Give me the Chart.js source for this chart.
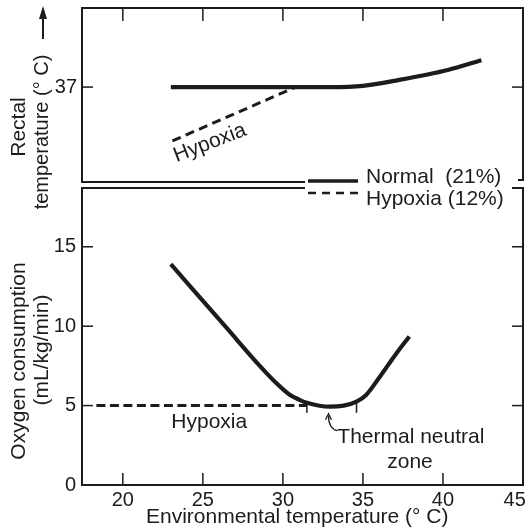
<!DOCTYPE html>
<html>
<head>
<meta charset="utf-8">
<script src="https://cdn.jsdelivr.net/npm/chart.js@4"></script>
<style>
html,body{margin:0;padding:0;background:#fff;}
#wrap{position:relative;width:530px;height:530px;}
canvas{position:absolute;left:0;top:0;}
</style>
</head>
<body>
<div id="wrap">
<canvas id="topChart" width="530" height="530"></canvas>
<canvas id="botChart" width="530" height="530"></canvas>
</div>
<script>
// ---------- data ----------
const xTickValues = [20, 25, 30, 35, 40, 45];
const xRange = [17.45, 45];

const rectalTicks = [37];
const rectalRange = [34, 39.5];
const o2Ticks = [0, 5, 10, 15];
const o2Range = [0, 18.7];

const seriesLabels = ['Normal  (21%)', 'Hypoxia (12%)'];

const rectalNormalT = [23, 27, 31, 33, 35, 37.2, 40.3, 42.4];
const rectalNormalV = [37, 37, 37, 37.0, 37.04, 37.22, 37.54, 37.85];
const rectalHypoxiaT = [23.1, 30.8];
const rectalHypoxiaV = [35.3, 37.0];

const o2NormalT = [23, 26.5, 28.6, 29.6, 30.4, 31.0, 31.5, 32.9, 33.8, 34.6, 35.2, 36.06, 37.1, 37.9];
const o2NormalV = [13.9, 9.87, 7.45, 6.4, 5.7, 5.38, 5.18, 4.93, 5.0, 5.25, 5.67, 6.82, 8.3, 9.35];
const o2HypoxiaT = [18.35, 31.5];
const o2HypoxiaV = [5, 5];
const tnzBounds = [31.5, 34.6];
const tnzTickV = [5.15, 4.55];

// ---------- style ----------
const INK = '#1c1c1c';
const FONT = "'Liberation Sans', Arial, Helvetica, sans-serif";
const TL = 11;
const TICK_FONT = 20;
const TITLE_FONT = 21;

const pts = (xs, ys) => xs.map((x, i) => ({x: x, y: ys[i]}));
function seg(ctx, x1, y1, x2, y2) { ctx.beginPath(); ctx.moveTo(x1, y1); ctx.lineTo(x2, y2); ctx.stroke(); }
function vText(ctx, text, x, y) {
  ctx.save(); ctx.translate(x, y); ctx.rotate(-Math.PI / 2);
  ctx.textAlign = 'center'; ctx.textBaseline = 'alphabetic';
  ctx.fillText(text, 0, 0); ctx.restore();
}

const solid = {borderColor: INK, borderWidth: 4.2, pointRadius: 0, fill: false,
  cubicInterpolationMode: 'monotone', tension: 0.4, borderCapStyle: 'butt'};
const dashed = {borderColor: INK, borderWidth: 3, pointRadius: 0, fill: false,
  borderDash: [9, 4.5], tension: 0, borderCapStyle: 'butt'};

const common = {
  responsive: false, animation: false, events: [],
  plugins: {legend: {display: false}, tooltip: {enabled: false}, title: {display: false}}
};

// ---------- top panel: rectal temperature ----------
const topDeco = {
  id: 'topDeco',
  afterDraw(chart) {
    const {ctx, chartArea: a, scales: {x, y}} = chart;
    ctx.save();
    ctx.strokeStyle = INK; ctx.fillStyle = INK; ctx.lineWidth = 2;
    seg(ctx, a.left, a.top - 1, a.left, a.bottom + 1);
    seg(ctx, a.left, a.top, a.right + 1, a.top);
    seg(ctx, a.right, a.top, a.right, a.bottom - 2);
    seg(ctx, a.right + 1, a.bottom - 2, a.right - 5, a.bottom - 2);
    seg(ctx, a.left, a.bottom, 305, a.bottom);
    ctx.lineWidth = 1.5;
    xTickValues.forEach(v => { if (v >= xRange[1]) return; const px = x.getPixelForValue(v); seg(ctx, px, a.top, px, a.top + TL + 2); });
    rectalTicks.forEach(v => { const py = y.getPixelForValue(v); seg(ctx, a.left, py, a.left + TL, py); seg(ctx, a.right, py, a.right - TL, py); });
    // axis title
    ctx.font = TITLE_FONT + 'px ' + FONT;
    vText(ctx, 'Rectal', 25, 127);
    ctx.font = '20px ' + FONT;
    vText(ctx, 'temperature (° C)', 48, 132);
    ctx.lineWidth = 2;
    seg(ctx, 43, 39, 43, 16);
    ctx.beginPath(); ctx.moveTo(43, 6); ctx.lineTo(39, 19); ctx.lineTo(47, 19); ctx.closePath(); ctx.fill();
    // rotated Hypoxia label
    ctx.font = '21px ' + FONT;
    ctx.save();
    ctx.translate(x.getPixelForValue(25.44), y.getPixelForValue(35.23));
    ctx.rotate(-21 * Math.PI / 180);
    ctx.textAlign = 'center'; ctx.textBaseline = 'middle';
    ctx.fillText('Hypoxia', 0, 0);
    ctx.restore();
    ctx.restore();
  }
};

new Chart(document.getElementById('topChart'), {
  type: 'line',
  data: {datasets: [
    Object.assign({label: seriesLabels[0], data: pts(rectalNormalT, rectalNormalV)}, solid),
    Object.assign({label: seriesLabels[1], data: pts(rectalHypoxiaT, rectalHypoxiaV)}, dashed, {borderDash: [9, 5.5]})
  ]},
  options: Object.assign({}, common, {
    layout: {padding: {top: 8, bottom: 348, left: 0, right: 7}},
    scales: {
      x: {type: 'linear', min: xRange[0], max: xRange[1], display: false},
      y: {type: 'linear', min: rectalRange[0], max: rectalRange[1],
        afterFit: s => { s.width = 82; s.paddingTop = 0; s.paddingBottom = 0; },
        afterBuildTicks: s => { s.ticks = rectalTicks.map(v => ({value: v})); },
        grid: {display: false, drawTicks: false}, border: {display: false},
        ticks: {color: INK, padding: 5, font: {family: FONT, size: TICK_FONT}}
      }
    }
  }),
  plugins: [topDeco]
});

// ---------- bottom panel: oxygen consumption ----------
const botDeco = {
  id: 'botDeco',
  afterDraw(chart) {
    const {ctx, chartArea: a, scales: {x, y}, data} = chart;
    ctx.save();
    ctx.strokeStyle = INK; ctx.fillStyle = INK; ctx.lineWidth = 2;
    seg(ctx, a.left, a.top, 305, a.top);
    seg(ctx, 512, a.top, a.right + 1, a.top);
    seg(ctx, a.left, a.top - 1, a.left, a.bottom + 1);
    seg(ctx, a.right, a.top, a.right, a.bottom + 1);
    seg(ctx, a.left - 1, a.bottom, a.right + 1, a.bottom);
    ctx.lineWidth = 1.5;
    xTickValues.forEach(v => { if (v >= xRange[1]) return; const px = x.getPixelForValue(v); seg(ctx, px, a.bottom, px, a.bottom - TL - 1); });
    o2Ticks.forEach(v => { if (v <= o2Range[0]) return; const py = y.getPixelForValue(v); seg(ctx, a.left, py, a.left + TL, py); seg(ctx, a.right, py, a.right - TL, py); });
    // axis title
    ctx.font = TITLE_FONT + 'px ' + FONT;
    vText(ctx, 'Oxygen consumption', 25, 361);
    vText(ctx, '(mL/kg/min)', 48, 350);
    // annotations
    ctx.font = '21px ' + FONT;
    ctx.textBaseline = 'middle';
    ctx.textAlign = 'center';
    ctx.fillText('Hypoxia', x.getPixelForValue(25.4), y.getPixelForValue(3.97));
    ctx.textAlign = 'left';
    ctx.fillText('Thermal neutral', x.getPixelForValue(33.4), y.getPixelForValue(3.02));
    ctx.textAlign = 'center';
    ctx.fillText('zone', x.getPixelForValue(37.94), y.getPixelForValue(1.45));
    // small arrow
    const ax = x.getPixelForValue(32.85), ay = y.getPixelForValue(4.55);
    ctx.lineWidth = 1.3;
    ctx.beginPath(); ctx.moveTo(ax + 9, ay + 18); ctx.quadraticCurveTo(ax, ay + 16, ax, ay + 3); ctx.stroke();
    ctx.beginPath(); ctx.moveTo(ax - 3, ay + 7); ctx.lineTo(ax, ay + 1); ctx.lineTo(ax + 3, ay + 7); ctx.stroke();
    // legend
    const l0 = data.datasets[0], l1 = data.datasets[1];
    ctx.lineWidth = l0.borderWidth - 0.7; ctx.setLineDash([]);
    seg(ctx, 308, 181, 358, 181);
    ctx.lineWidth = 2.5; ctx.setLineDash([8, 6]);
    seg(ctx, 308, 193, 358, 193);
    ctx.setLineDash([]);
    ctx.textAlign = 'left'; ctx.textBaseline = 'alphabetic';
    ctx.fillText(l0.label, 366, 183);
    ctx.fillText(l1.label, 366, 205);
    ctx.restore();
  }
};

new Chart(document.getElementById('botChart'), {
  type: 'line',
  data: {datasets: [
    Object.assign({label: seriesLabels[0], data: pts(o2NormalT, o2NormalV)}, solid),
    Object.assign({label: seriesLabels[1], data: pts(o2HypoxiaT, o2HypoxiaV)}, dashed),
    {label: 'tnz1', data: pts([tnzBounds[0], tnzBounds[0]], tnzTickV), borderColor: INK, borderWidth: 1.5, pointRadius: 0},
    {label: 'tnz2', data: pts([tnzBounds[1], tnzBounds[1]], tnzTickV), borderColor: INK, borderWidth: 1.5, pointRadius: 0}
  ]},
  options: Object.assign({}, common, {
    layout: {padding: {top: 188, bottom: 0, left: 0, right: 7}},
    scales: {
      x: {type: 'linear', min: xRange[0], max: xRange[1],
        afterFit: s => { s.height = 45; s.paddingLeft = 0; s.paddingRight = 0; },
        afterBuildTicks: s => { s.ticks = xTickValues.map(v => ({value: v})); },
        grid: {display: false, drawTicks: false}, border: {display: false},
        ticks: {color: INK, padding: 3, autoSkip: false, maxRotation: 0, font: {family: FONT, size: TICK_FONT},
          callback: v => (v === 45 ? '45\u2007\u00a0' : String(v))},
        title: {display: true, text: 'Environmental temperature (° C)\u2002', color: INK, padding: {top: 0, bottom: 0},
          font: {family: FONT, size: TITLE_FONT}}
      },
      y: {type: 'linear', min: o2Range[0], max: o2Range[1],
        afterFit: s => { s.width = 82; s.paddingTop = 0; s.paddingBottom = 0; },
        afterBuildTicks: s => { s.ticks = o2Ticks.map(v => ({value: v})); },
        grid: {display: false, drawTicks: false}, border: {display: false},
        ticks: {color: INK, padding: 6, font: {family: FONT, size: TICK_FONT}}
      }
    }
  }),
  plugins: [botDeco]
});
</script>
</body>
</html>
